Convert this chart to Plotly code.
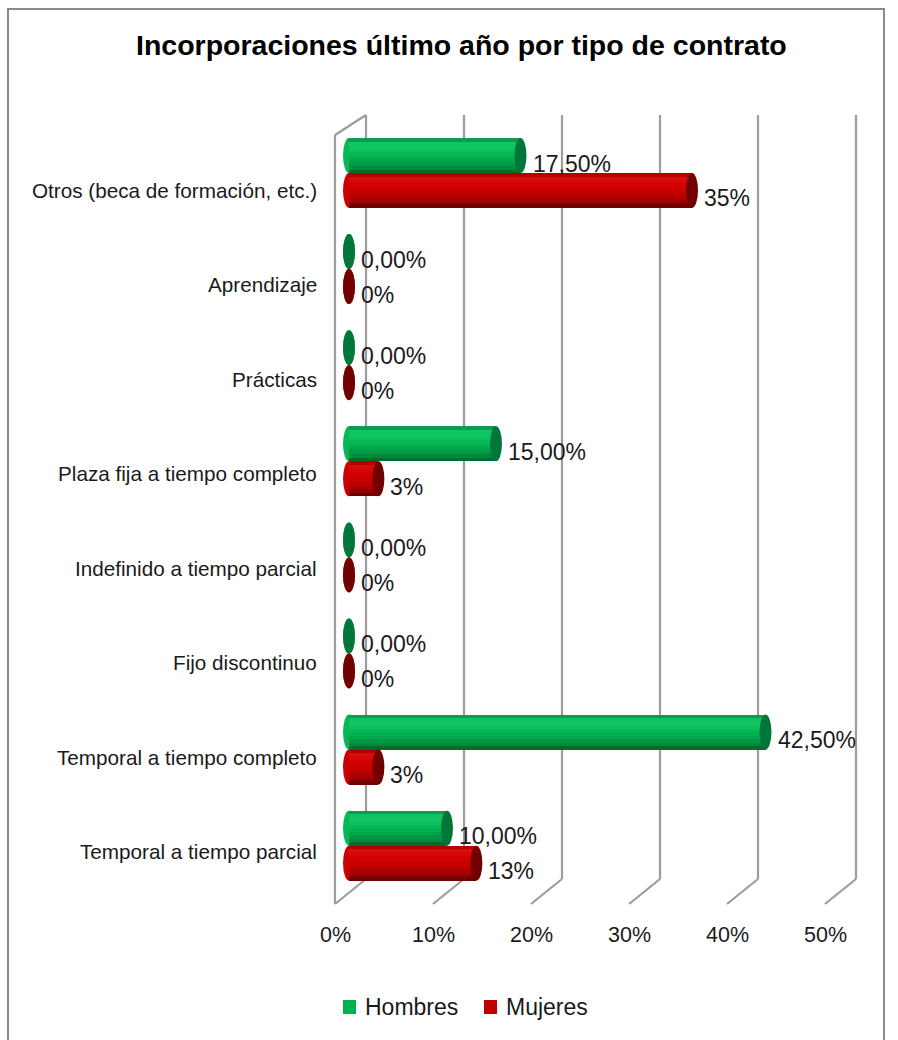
import plotly.graph_objects as go

# ---- data -------------------------------------------------------------
categorias = [
    "Otros (beca de formación, etc.)",
    "Aprendizaje",
    "Prácticas",
    "Plaza fija a tiempo completo",
    "Indefinido a tiempo parcial",
    "Fijo discontinuo",
    "Temporal a tiempo completo",
    "Temporal a tiempo parcial",
]
hombres = [17.5, 0, 0, 15, 0, 0, 42.5, 10]
mujeres = [35, 0, 0, 3, 0, 0, 3, 13]
ticks = [0, 10, 20, 30, 40, 50]
tick_labels = ["0%", "10%", "20%", "30%", "40%", "50%"]
series = ["Hombres", "Mujeres"]
series_colors = ["#00b050", "#c00000"]

titulo = "Incorporaciones último año por tipo de contrato"

# ---- page geometry (pixels) ------------------------------------------
W, H = 898, 1040
X_ZERO, PX_PCT = 349.0, 9.8        # where 0 % sits and pixels per percent
Y_FIRST, PX_CAT = 173.0, 96.1      # centre of first category, spacing
BAR_W = 0.364                       # thickness of one cylinder (category units)
CAP = 0.61                          # half width of the end ellipse (percent units)
FONT = "Liberation Sans, Arial, sans-serif"
TXT = "#1a1a1a"


def xd(px):
    return (px - X_ZERO) / PX_PCT


def yd(py):
    return (py - Y_FIRST) / PX_CAT


DEPTH_BACK = xd(366) - xd(349)     # back wall offset
DEPTH_FRONT = xd(335) - xd(349)    # front edge offset
Y_BACK_TOP, Y_BACK_BOT, Y_FRONT_BOT, Y_FRONT_TOP = yd(115), yd(879), yd(904), yd(135)

# vertical shading of the cylinders, top to bottom
GREEN_SHADES = ["#0f9a4d", "#12c264", "#0ec560", "#0ac15c", "#06ba56",
                "#03b051", "#00a54a", "#009943", "#00893b", "#006c2e"]
RED_SHADES = ["#b20000", "#da0b0b", "#d80707", "#d40303", "#ce0000",
              "#c50000", "#b90000", "#a90000", "#950000", "#6e0000"]
GREEN_CAP, RED_CAP = "#00763a", "#730000"
GREEN_MID, RED_MID = "#05b855", "#cc0000"

ys = list(range(len(categorias)))
fig = go.Figure()


def add_cylinder(values, shades, start, name):
    n = len(shades)
    for k, col in enumerate(shades):
        fig.add_trace(go.Bar(
            x=values, y=ys, orientation="h", base=0, name=name,
            offset=start + k * BAR_W / n, width=BAR_W / n,
            marker=dict(color=col, line=dict(width=0)),
            showlegend=False, hoverinfo="skip",
        ))


add_cylinder(hombres, GREEN_SHADES, -BAR_W, series[0])
add_cylinder(mujeres, RED_SHADES, 0, series[1])

shapes = []
grid = dict(color="#9c9c9c", width=2.2)

# walls and gridlines
for t in ticks:
    bx, fx = t + DEPTH_BACK, t + DEPTH_FRONT
    shapes.append(dict(type="line", xref="x", yref="y", x0=bx, x1=bx,
                       y0=Y_BACK_TOP, y1=Y_BACK_BOT, line=grid, layer="below"))
    shapes.append(dict(type="line", xref="x", yref="y", x0=bx, x1=fx,
                       y0=Y_BACK_BOT, y1=Y_FRONT_BOT, line=grid, layer="below"))
f0, b0 = ticks[0] + DEPTH_FRONT, ticks[0] + DEPTH_BACK
shapes.append(dict(type="line", xref="x", yref="y", x0=f0, x1=f0,
                   y0=Y_FRONT_TOP, y1=Y_FRONT_BOT, line=grid, layer="below"))
shapes.append(dict(type="line", xref="x", yref="y", x0=f0, x1=b0,
                   y0=Y_FRONT_TOP, y1=Y_BACK_TOP, line=grid, layer="below"))

# rounded starts and end caps of the cylinders
for vals, start, mid, cap in ((hombres, -BAR_W, GREEN_MID, GREEN_CAP),
                              (mujeres, 0, RED_MID, RED_CAP)):
    for i, v in enumerate(vals):
        y0, y1 = i + start, i + start + BAR_W
        shapes.append(dict(type="circle", xref="x", yref="y",
                           x0=-CAP, x1=CAP, y0=y0, y1=y1,
                           fillcolor=mid, line=dict(width=0), layer="below"))
        shapes.append(dict(type="circle", xref="x", yref="y",
                           x0=v - CAP, x1=v + CAP, y0=y0, y1=y1,
                           fillcolor=cap, line=dict(width=0), layer="above"))

# outer frame
shapes.append(dict(type="rect", xref="paper", yref="paper",
                   x0=8 / W, x1=884 / W, y0=-0.02, y1=1 - 9 / H,
                   line=dict(color="#8a8a8a", width=2), layer="above"))

annotations = [dict(
    text=f"<b>{titulo}</b>", xref="paper", yref="paper",
    x=462 / W, y=1 - 45 / H, xanchor="center", yanchor="middle",
    showarrow=False, font=dict(family=FONT, size=28.5, color="#000000"),
)]

# category labels
for i, c in enumerate(categorias):
    annotations.append(dict(
        text=c, xref="x", yref="y", x=xd(319), y=i, xanchor="right",
        yanchor="middle", yshift=-(17 - 1.55 * i), showarrow=False,
        font=dict(family=FONT, size=20.7, color=TXT),
    ))

# value axis labels (front edge)
for t, lab in zip(ticks, tick_labels):
    annotations.append(dict(
        text=lab, xref="x", yref="y", x=t + DEPTH_FRONT, y=yd(935),
        xanchor="center", yanchor="middle", showarrow=False,
        font=dict(family=FONT, size=21.5, color=TXT),
    ))

# value labels
for i, (h, m) in enumerate(zip(hombres, mujeres)):
    annotations.append(dict(
        text=f"{h:.2f}".replace(".", ",") + "%", xref="x", yref="y",
        x=h, y=i - BAR_W / 2, xanchor="left", yanchor="middle",
        xshift=10, yshift=-8, showarrow=False,
        font=dict(family=FONT, size=23, color=TXT),
    ))
    annotations.append(dict(
        text=f"{m:.0f}%", xref="x", yref="y",
        x=m, y=i + BAR_W / 2, xanchor="left", yanchor="middle",
        xshift=10, yshift=-8, showarrow=False,
        font=dict(family=FONT, size=23, color=TXT),
    ))

# legend: coloured square + name, side by side below the chart
LEG_Y = 1007
for left, name, col in zip((343, 484), series, series_colors):
    shapes.append(dict(type="rect", xref="paper", yref="paper",
                       x0=left / W, x1=(left + 13) / W,
                       y0=1 - (LEG_Y + 7) / H, y1=1 - (LEG_Y - 7) / H,
                       fillcolor=col, line=dict(width=0)))
    annotations.append(dict(
        text=name, xref="paper", yref="paper", x=(left + 20) / W,
        y=1 - LEG_Y / H, xanchor="left", yanchor="middle", showarrow=False,
        font=dict(family=FONT, size=23, color=TXT),
    ))

fig.update_layout(
    width=W, height=H, margin=dict(l=0, r=0, t=0, b=0),
    paper_bgcolor="white", plot_bgcolor="white",
    barmode="overlay", bargap=0,
    xaxis=dict(range=[xd(0), xd(W)], domain=[0, 1], visible=False,
               fixedrange=True),
    yaxis=dict(range=[yd(H), yd(0)], domain=[0, 1], visible=False,
               fixedrange=True),
    shapes=shapes, annotations=annotations,
    showlegend=False,
)

fig.write_html("out.html")
